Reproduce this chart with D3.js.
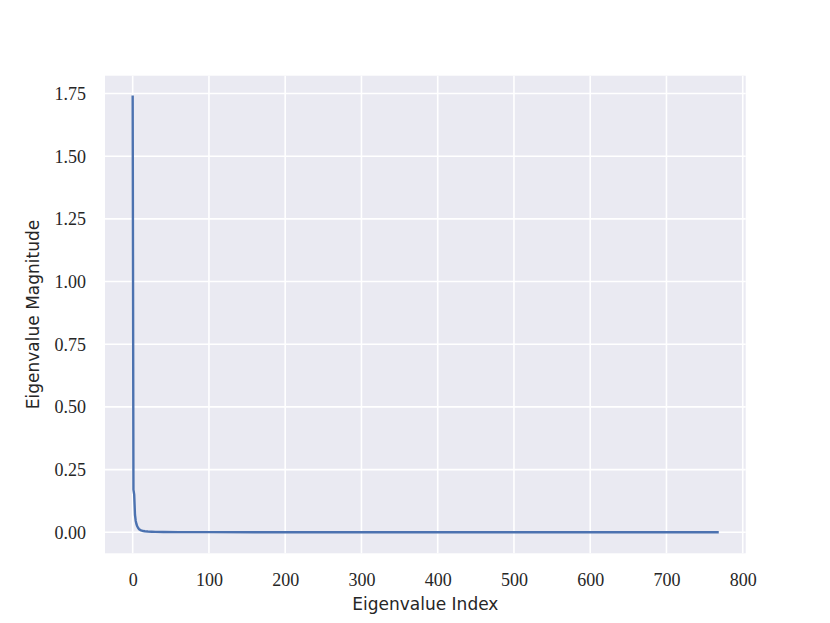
<!DOCTYPE html>
<html><head><meta charset="utf-8">
<script src="https://cdn.jsdelivr.net/npm/d3@7"></script>
<style>body{margin:0;background:#fff}</style>
</head><body>
<svg id="c" width="830" height="623"></svg>
<script>
// Eigenvalue index / magnitude points (sparse along the flat tail)
const eigIndex = [0, 1, 2, 3, 4, 5, 6, 7, 8, 9, 10, 12, 14, 16, 20, 25, 30, 40, 60, 100, 200, 300, 400, 500, 600, 700, 767];
const eigValue = [1.737, 0.17, 0.15, 0.07, 0.045, 0.032, 0.024, 0.018, 0.014, 0.011, 0.009, 0.007, 0.005, 0.004, 0.003, 0.0022, 0.0017, 0.0012, 0.0008, 0.0005, 0.0003, 0.0002, 0.0001, 0.0001, 0.00005, 0.00002, 0.0];
const xTicks = [0, 100, 200, 300, 400, 500, 600, 700, 800];
const yTicks = [0, 0.25, 0.5, 0.75, 1.0, 1.25, 1.5, 1.75];
const xLabel = "Eigenvalue Index";
const yLabel = "Eigenvalue Magnitude";

const svg = d3.select("#c");
const L = 105, R = 745.7, T = 75.7, B = 553.3;
const x = d3.scaleLinear().domain([-36.3, 803.9]).range([L, R]);
const y = d3.scaleLinear().domain([-0.0838, 1.821]).range([B, T]);

svg.append("rect").attr("x", L).attr("y", T).attr("width", R - L).attr("height", B - T).attr("fill", "#eaeaf2");

const grid = svg.append("g");
grid.selectAll(".vx").data(xTicks).join("line")
  .attr("x1", d => x(d)).attr("x2", d => x(d)).attr("y1", T).attr("y2", B)
  .attr("stroke", "#fff").attr("stroke-width", 1.6);
grid.selectAll(".hy").data(yTicks).join("line")
  .attr("x1", L).attr("x2", R).attr("y1", d => y(d)).attr("y2", d => y(d))
  .attr("stroke", "#fff").attr("stroke-width", 1.6);

const pts = eigIndex.map((d, i) => [d, eigValue[i]]);
svg.append("path").datum(pts)
  .attr("d", d3.line().x(d => x(d[0])).y(d => y(d[1])))
  .attr("fill", "none").attr("stroke", "#4c72b0").attr("stroke-width", 2.4)
  .attr("stroke-linejoin", "round").attr("stroke-linecap", "square");

const serif = "'Liberation Serif', 'DejaVu Serif', serif";
const xAxis = d3.axisBottom(x).tickValues(xTicks).tickSize(0).tickPadding(0).tickFormat(d3.format("d"));
const gx = svg.append("g").attr("transform", `translate(0,${B})`).call(xAxis);
gx.select(".domain").remove();
gx.selectAll("text").attr("font-family", serif).attr("font-size", 18).attr("fill", "#262626")
  .attr("dy", null).attr("y", 33);

const yAxis = d3.axisLeft(y).tickValues(yTicks).tickSize(0).tickPadding(0).tickFormat(d3.format(".2f"));
const gy = svg.append("g").attr("transform", `translate(${L},0)`).call(yAxis);
gy.select(".domain").remove();
gy.selectAll("text").attr("font-family", serif).attr("font-size", 18).attr("fill", "#262626")
  .attr("x", -19).attr("dy", "0.33em");

const sans = "'DejaVu Sans', sans-serif";
svg.append("text").attr("x", (L + R) / 2).attr("y", 610).attr("text-anchor", "middle")
  .attr("font-family", sans).attr("font-size", 17).attr("fill", "#262626").text(xLabel);
svg.append("text").attr("transform", `translate(39,${(T + B) / 2}) rotate(-90)`).attr("text-anchor", "middle")
  .attr("font-family", sans).attr("font-size", 17).attr("fill", "#262626").text(yLabel);
</script>
</body></html>
